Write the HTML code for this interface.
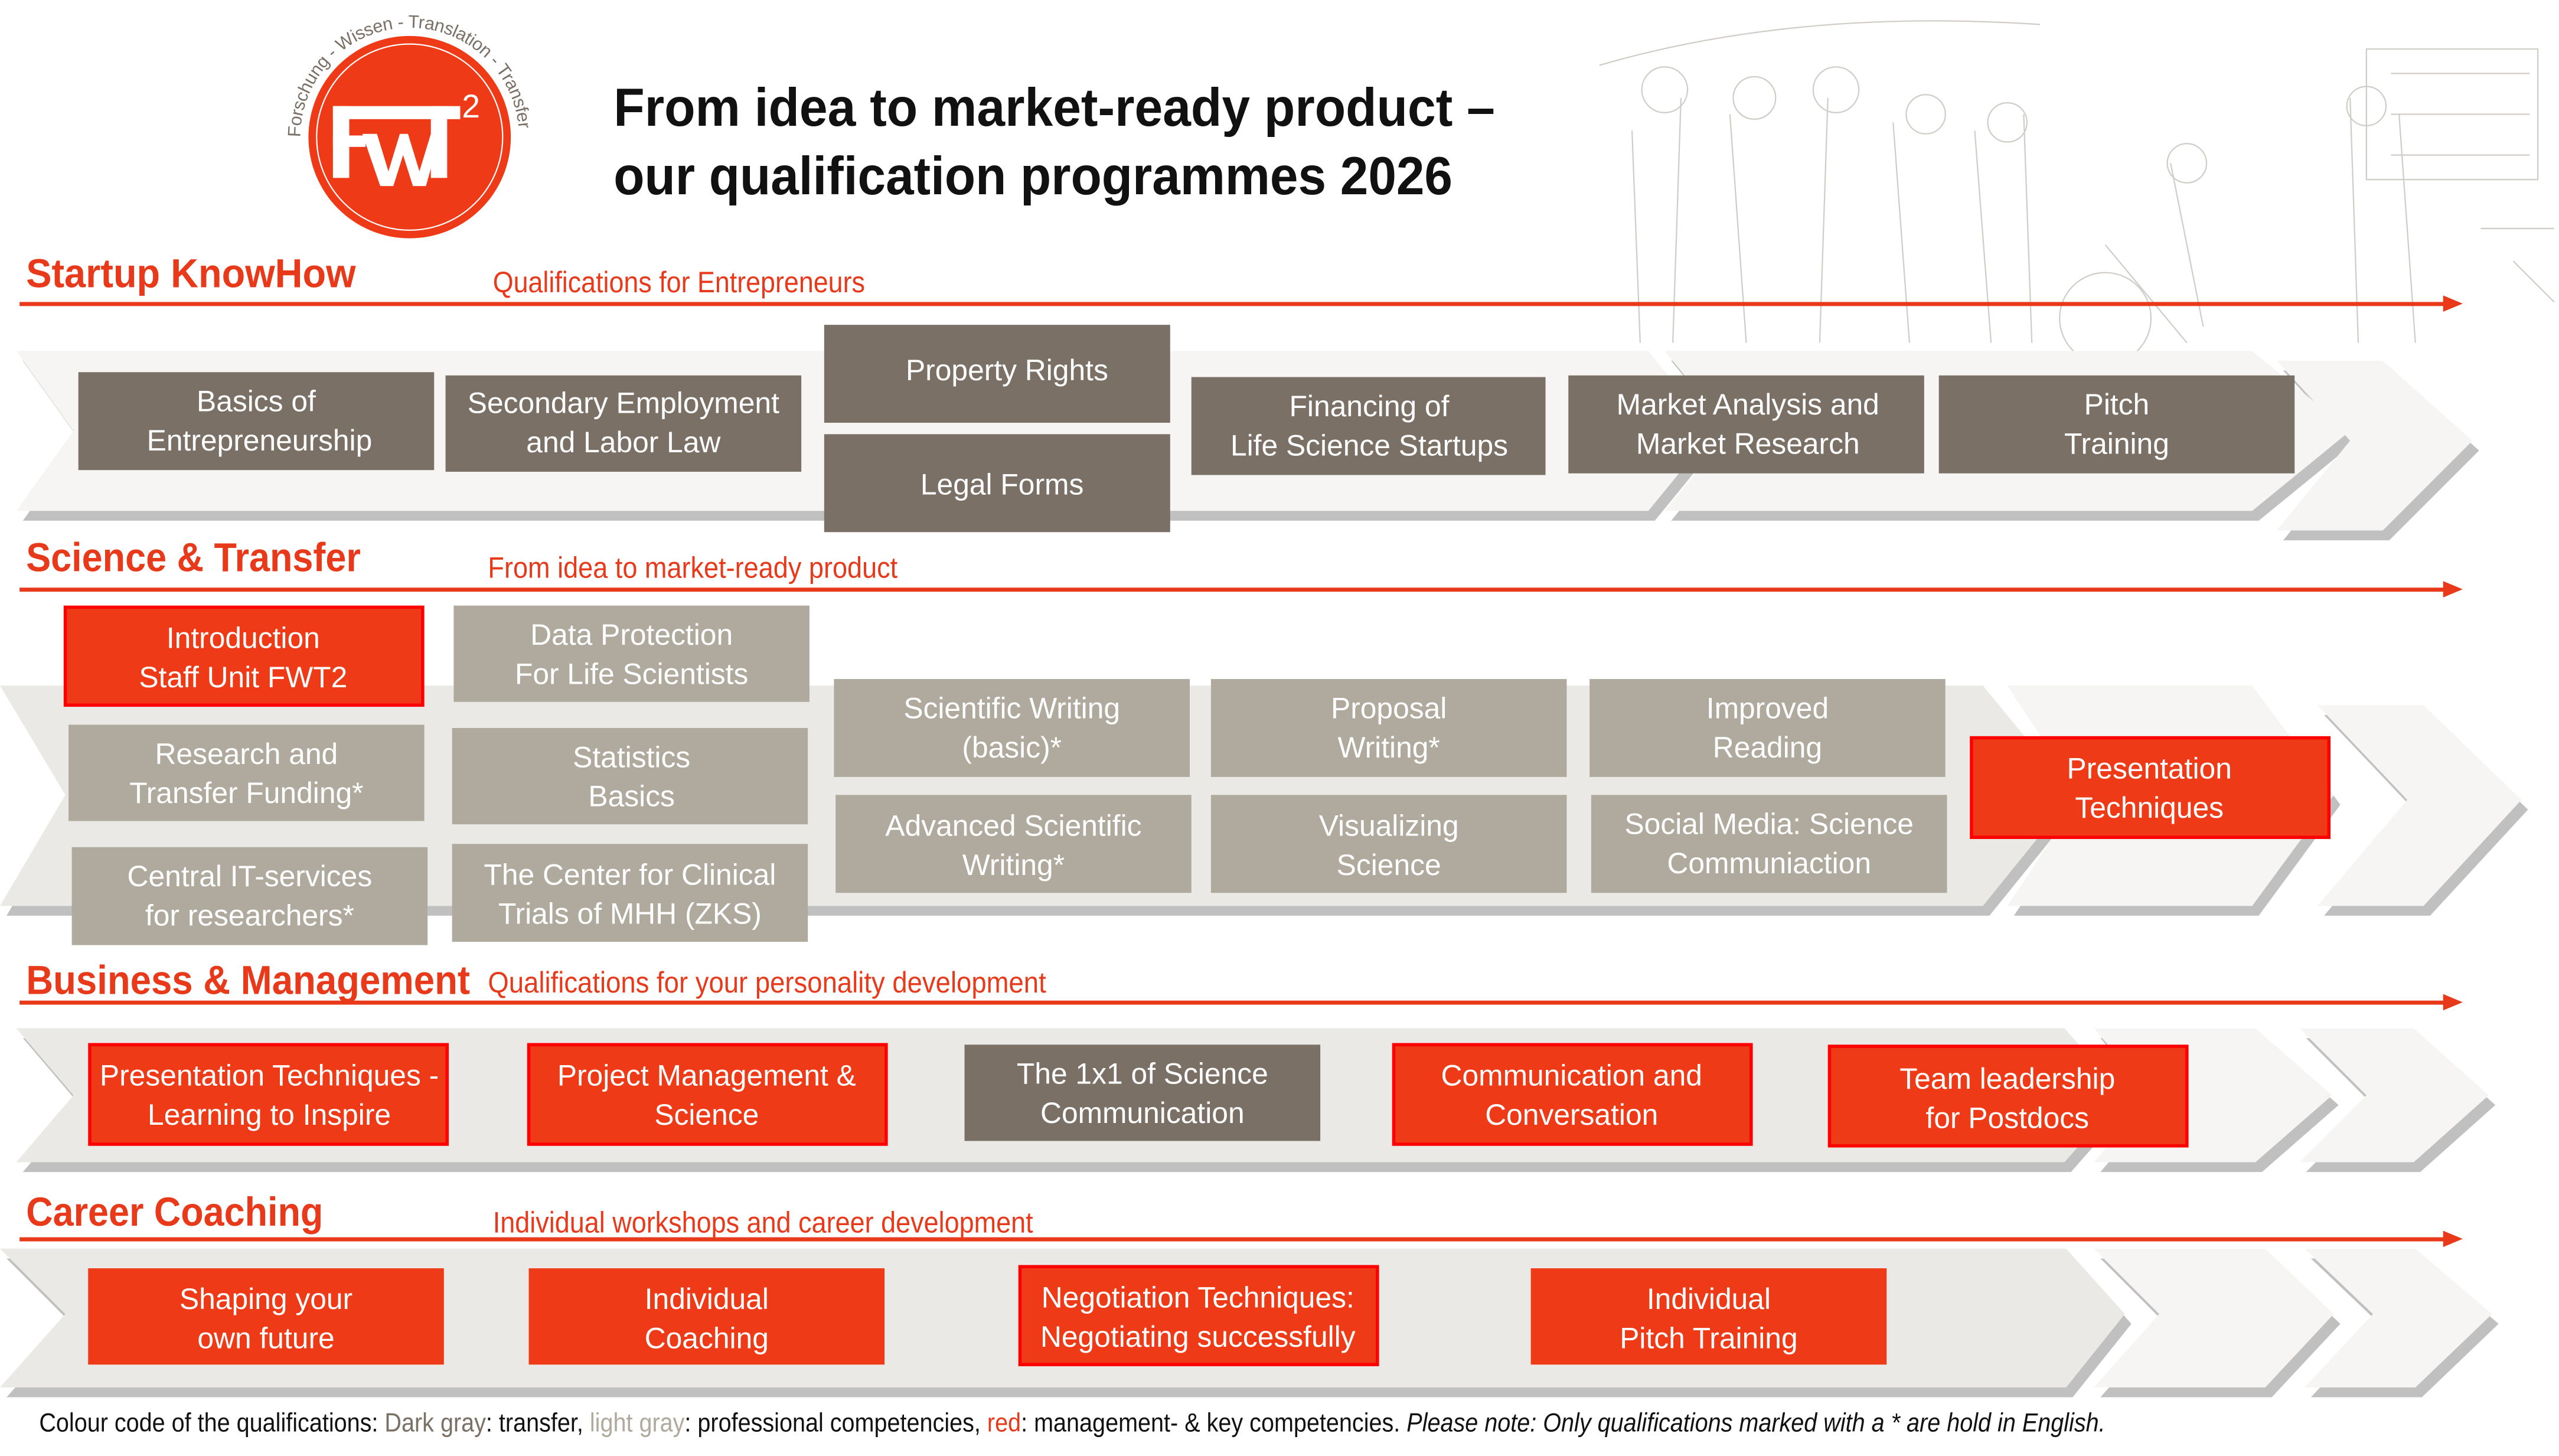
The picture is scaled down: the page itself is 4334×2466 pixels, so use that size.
<!DOCTYPE html>
<html><head><meta charset="utf-8"><style>
html,body{margin:0;padding:0;background:#fff;}
svg{display:block;}
.bx{font-family:"Liberation Sans Narrow","Liberation Sans",sans-serif;font-size:18px;fill:#fff;text-anchor:middle;}
.hd{font-family:"Liberation Sans",sans-serif;font-size:25px;font-weight:bold;fill:#e8391a;}
.sub{font-family:"Liberation Sans",sans-serif;font-size:18px;fill:#e8391a;}
.ttl{font-family:"Liberation Sans",sans-serif;font-size:33px;font-weight:bold;fill:#111;}
.ft{font-family:"Liberation Sans",sans-serif;font-size:16px;fill:#111;}
.lg{font-family:"Liberation Sans",sans-serif;}
</style></head><body>
<svg width="4334" height="2466" viewBox="0 0 1568 892" preserveAspectRatio="none" xmlns="http://www.w3.org/2000/svg">
<rect width="1568" height="892" fill="#fff"/>
<!-- illustration hint -->
<g stroke="#d0ccc8" stroke-width="0.8" fill="none">
<path d="M980 40 Q1100 5 1250 15 M1000 80 L1005 210 M1030 60 L1025 210 M1060 70 L1070 210 M1120 60 L1115 210 M1160 75 L1170 210 M1210 80 L1220 210 M1240 70 L1245 210 M1290 150 L1340 210 M1330 100 L1350 200 M1440 60 L1445 210 M1470 70 L1480 210"/>
<circle cx="1020" cy="55" r="14"/><circle cx="1075" cy="60" r="13"/><circle cx="1125" cy="55" r="14"/><circle cx="1180" cy="70" r="12"/><circle cx="1230" cy="75" r="12"/><circle cx="1340" cy="100" r="12"/><circle cx="1450" cy="65" r="12"/>
<circle cx="1290" cy="195" r="28"/>
<path d="M1450 30 L1555 30 L1555 110 L1450 110 Z M1465 45 L1550 45 M1465 70 L1550 70 M1465 95 L1550 95"/>
<path d="M1520 140 L1565 140 M1540 160 L1565 185"/>
</g>
<!-- logo -->
<defs><path id="arc" d="M184 84 A67 67 0 0 1 318 84"/></defs>
<circle cx="251" cy="84" r="62" fill="#ee3a17"/>
<circle cx="251" cy="84" r="57" fill="none" stroke="#fff" stroke-width="0.8"/>
<text class="lg" font-size="11" fill="#7a7066"><textPath href="#arc" startOffset="0" textLength="205">Forschung - Wissen - Translation - Transfer</textPath></text>
<g fill="#fff">
<rect x="204" y="65" width="78" height="8"/><rect x="204" y="65" width="10" height="44"/><rect x="204" y="83" width="20" height="7"/>
<rect x="264" y="65" width="10" height="44"/>
<polygon points="222,82 231,82 238,105 245,82 250,82 257,105 264,82 270,82 261,114 253,114 247,95 241,114 233,114"/>
<text x="283" y="72" class="lg" font-size="20">2</text>
</g>
<!-- title -->
<text class="ttl" x="376" y="77" textLength="540" lengthAdjust="spacingAndGlyphs">From idea to market-ready product –</text>
<text class="ttl" x="376" y="119" textLength="514" lengthAdjust="spacingAndGlyphs">our qualification programmes 2026</text>

<!-- bands -->
<g>
<g fill="#c0c0c0">
<polygon points="14,221 1014,221 1054,270 1014,319 14,319 49,270"/>
<polygon points="1024,221 1384,221 1444,270 1384,319 1024,319 1064,270"/>
<polygon points="1399,227 1464,227 1519,276 1464,331 1399,331 1444,276"/>
</g>
<polygon points="10,215 1010,215 1050,264 1010,313 10,313 45,264" fill="#f6f5f3"/>
<polygon points="1020,215 1380,215 1440,264 1380,313 1020,313 1060,264" fill="#f6f5f3"/>
<polygon points="1395,221 1460,221 1515,270 1460,325 1395,325 1440,270" fill="#f6f5f3"/>
<g fill="#c0c0c0">
<polygon points="4,426 1219,426 1274,493 1219,561 4,561 44,493"/>
<polygon points="1234,426 1384,426 1434,493 1384,561 1234,561 1279,493"/>
<polygon points="1424,438 1489,438 1549,496 1489,561 1424,561 1479,496"/>
</g>
<polygon points="0,420 1215,420 1270,487 1215,555 0,555 40,487" fill="#ebe9e5"/>
<polygon points="1230,420 1380,420 1430,487 1380,555 1230,555 1275,487" fill="#f6f5f3"/>
<polygon points="1420,432 1485,432 1545,490 1485,555 1420,555 1475,490" fill="#f6f5f3"/>
<g fill="#c0c0c0">
<polygon points="14,636 1269,636 1305,677 1269,718 14,718 49,677"/>
<polygon points="1287,636 1386,636 1433,677 1386,718 1287,718 1322,677"/>
<polygon points="1413,636 1483,636 1529,677 1483,718 1413,718 1454,677"/>
</g>
<polygon points="10,630 1265,630 1301,671 1265,712 10,712 45,671" fill="#ebe9e5"/>
<polygon points="1283,630 1382,630 1429,671 1382,712 1283,712 1318,671" fill="#f6f5f3"/>
<polygon points="1409,630 1479,630 1525,671 1479,712 1409,712 1450,671" fill="#f6f5f3"/>
<g fill="#c0c0c0">
<polygon points="4,771 1270,771 1306,811 1270,856 4,856 44,811"/>
<polygon points="1287,771 1392,771 1434,811 1392,856 1287,856 1327,811"/>
<polygon points="1416,771 1484,771 1531,811 1484,856 1416,856 1458,811"/>
</g>
<polygon points="0,765 1266,765 1302,805 1266,850 0,850 40,805" fill="#ebe9e5"/>
<polygon points="1283,765 1388,765 1430,805 1388,850 1283,850 1323,805" fill="#f6f5f3"/>
<polygon points="1412,765 1480,765 1527,805 1480,850 1412,850 1454,805" fill="#f6f5f3"/>
</g>

<!-- arrows -->
<g fill="#e8391a">
<rect x="12" y="185" width="1488" height="2.5"/><polygon points="1497,181 1509,186 1497,191"/>
<rect x="12" y="360" width="1488" height="2.5"/><polygon points="1497,356 1509,361 1497,366"/>
<rect x="12" y="613" width="1488" height="2.5"/><polygon points="1497,609 1509,614 1497,619"/>
<rect x="12" y="758" width="1488" height="2.5"/><polygon points="1497,754 1509,759 1497,764"/>
</g>

<!-- headings -->
<text class="hd" x="16" y="176" textLength="202" lengthAdjust="spacingAndGlyphs">Startup KnowHow</text>
<text class="sub" x="302" y="179" textLength="228" lengthAdjust="spacingAndGlyphs">Qualifications for Entrepreneurs</text>
<text class="hd" x="16" y="350" textLength="205" lengthAdjust="spacingAndGlyphs">Science &amp; Transfer</text>
<text class="sub" x="299" y="354" textLength="251" lengthAdjust="spacingAndGlyphs">From idea to market-ready product</text>
<text class="hd" x="16" y="609" textLength="272" lengthAdjust="spacingAndGlyphs">Business &amp; Management</text>
<text class="sub" x="299" y="608" textLength="342" lengthAdjust="spacingAndGlyphs">Qualifications for your personality development</text>
<text class="hd" x="16" y="751" textLength="182" lengthAdjust="spacingAndGlyphs">Career Coaching</text>
<text class="sub" x="302" y="755" textLength="331" lengthAdjust="spacingAndGlyphs">Individual workshops and career development</text>

<g fill="#7a7066">
<rect x="48" y="228" width="218" height="60"/>
<rect x="273" y="230" width="218" height="59"/>
<rect x="505" y="199" width="212" height="60"/>
<rect x="505" y="266" width="212" height="60"/>
<rect x="730" y="231" width="217" height="60"/>
<rect x="961" y="230" width="218" height="60"/>
<rect x="1188" y="230" width="218" height="60"/>
<rect x="591" y="640" width="218" height="59"/>
</g>
<g fill="#b0aa9e">
<rect x="278" y="371" width="218" height="59"/>
<rect x="42" y="444" width="218" height="59"/>
<rect x="277" y="446" width="218" height="59"/>
<rect x="44" y="519" width="218" height="60"/>
<rect x="277" y="517" width="218" height="60"/>
<rect x="511" y="416" width="218" height="60"/>
<rect x="742" y="416" width="218" height="60"/>
<rect x="974" y="416" width="218" height="60"/>
<rect x="512" y="487" width="218" height="60"/>
<rect x="742" y="487" width="218" height="60"/>
<rect x="975" y="487" width="218" height="60"/>
</g>
<g fill="#ee3a17" stroke="#ff0000" stroke-width="2">
<rect x="40" y="372" width="219" height="60"/>
<rect x="1208" y="452" width="219" height="61"/>
<rect x="55" y="640" width="219" height="61"/>
<rect x="324" y="640" width="219" height="61"/>
<rect x="854" y="640" width="219" height="61"/>
<rect x="1121" y="641" width="219" height="61"/>
<rect x="625" y="776" width="219" height="60"/>
</g>
<g fill="#ee3a17">
<rect x="54" y="777" width="218" height="59"/>
<rect x="324" y="777" width="218" height="59"/>
<rect x="938" y="777" width="218" height="59"/>
</g>

<g class="bx">
<text x="157" y="252">Basics of</text><text x="159" y="276">Entrepreneurship</text>
<text x="382" y="253">Secondary Employment</text><text x="382" y="277">and Labor Law</text>
<text x="617" y="233">Property Rights</text>
<text x="614" y="303">Legal Forms</text>
<text x="839" y="255">Financing of</text><text x="839" y="279">Life Science Startups</text>
<text x="1071" y="254">Market Analysis and</text><text x="1071" y="278">Market Research</text>
<text x="1297" y="254">Pitch</text><text x="1297" y="278">Training</text>

<text x="149" y="397">Introduction</text><text x="149" y="421">Staff Unit FWT2</text>
<text x="387" y="395">Data Protection</text><text x="387" y="419">For Life Scientists</text>
<text x="151" y="468">Research and</text><text x="151" y="492">Transfer Funding*</text>
<text x="387" y="470">Statistics</text><text x="387" y="494">Basics</text>
<text x="153" y="543">Central IT-services</text><text x="153" y="567">for researchers*</text>
<text x="386" y="542">The Center for Clinical</text><text x="386" y="566">Trials of MHH (ZKS)</text>
<text x="620" y="440">Scientific Writing</text><text x="620" y="464">(basic)*</text>
<text x="851" y="440">Proposal</text><text x="851" y="464">Writing*</text>
<text x="1083" y="440">Improved</text><text x="1083" y="464">Reading</text>
<text x="621" y="512">Advanced Scientific</text><text x="621" y="536">Writing*</text>
<text x="851" y="512">Visualizing</text><text x="851" y="536">Science</text>
<text x="1084" y="511">Social Media: Science</text><text x="1084" y="535">Communiaction</text>
<text x="1317" y="477">Presentation</text><text x="1317" y="501">Techniques</text>

<text x="165" y="665">Presentation Techniques -</text><text x="165" y="689">Learning to Inspire</text>
<text x="433" y="665">Project Management &amp;</text><text x="433" y="689">Science</text>
<text x="700" y="664">The 1x1 of Science</text><text x="700" y="688">Communication</text>
<text x="963" y="665">Communication and</text><text x="963" y="689">Conversation</text>
<text x="1230" y="667">Team leadership</text><text x="1230" y="691">for Postdocs</text>

<text x="163" y="802">Shaping your</text><text x="163" y="826">own future</text>
<text x="433" y="802">Individual</text><text x="433" y="826">Coaching</text>
<text x="734" y="801">Negotiation Techniques:</text><text x="734" y="825">Negotiating successfully</text>
<text x="1047" y="802">Individual</text><text x="1047" y="826">Pitch Training</text>
</g>

<text class="ft" x="24" y="877" textLength="1266" lengthAdjust="spacingAndGlyphs">Colour code of the qualifications: <tspan fill="#7a7066">Dark gray</tspan>: transfer, <tspan fill="#b0aa9e">light gray</tspan>: professional competencies, <tspan fill="#e8391a">red</tspan>: management- &amp; key competencies. <tspan font-style="italic">Please note: Only qualifications marked with a * are hold in English.</tspan></text>
</svg>
</body></html>
